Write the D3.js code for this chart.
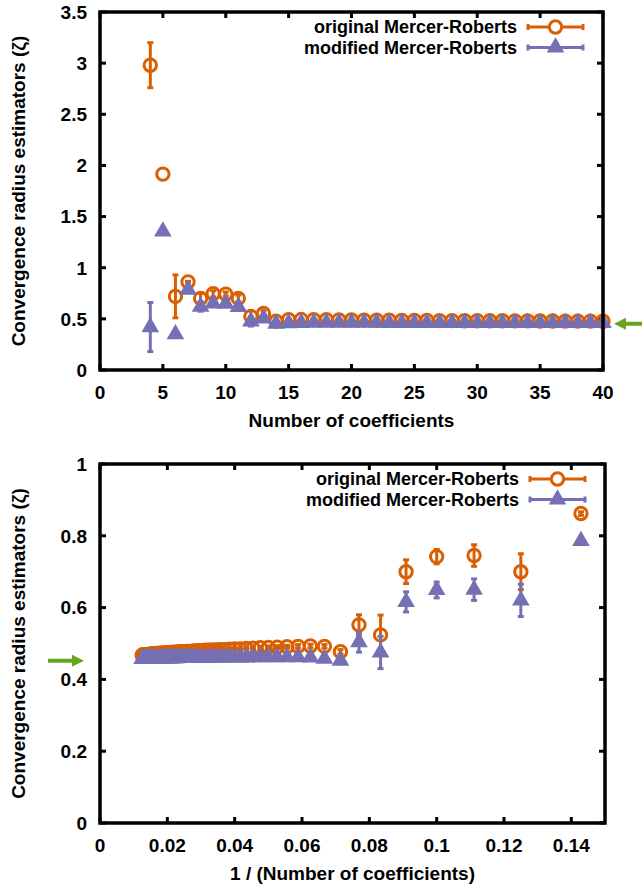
<!DOCTYPE html>
<html>
<head>
<meta charset="utf-8">
<script src="https://cdn.jsdelivr.net/npm/d3@7"></script>
<style>
  body { margin: 0; background: #fff; }
  svg { font-family: "Liberation Sans", Arial, sans-serif; font-weight: bold; }
</style>
</head>
<body>
<svg id="chart" width="642" height="888"></svg>
<script>
// number of coefficients
var nCoef = [4, 5, 6, 7, 8, 9, 10, 11, 12, 13, 14, 15, 16, 17, 18, 19, 20, 21, 22, 23,
    24, 25, 26, 27, 28, 29, 30, 31, 32, 33, 34, 35, 36, 37, 38, 39, 40, 41, 42, 43,
    44, 45, 46, 47, 48, 49, 50, 51, 52, 53, 54, 55, 56, 57, 58, 59, 60, 61, 62, 63,
    64, 65, 66, 67, 68, 69, 70, 71, 72, 73, 74, 75, 76, 77, 78, 79, 80];

var originalMR = [2.98, 1.915, 0.72, 0.862, 0.70, 0.745, 0.742, 0.70, 0.524, 0.552,
    0.477, 0.492, 0.493, 0.492, 0.491, 0.490, 0.489, 0.488, 0.487, 0.486,
    0.485, 0.485, 0.484, 0.483, 0.483, 0.482, 0.482, 0.481, 0.481, 0.480,
    0.480, 0.479, 0.479, 0.478, 0.478, 0.478, 0.477, 0.477, 0.477, 0.476,
    0.476, 0.476, 0.475, 0.475, 0.475, 0.474, 0.474, 0.474, 0.473, 0.473,
    0.473, 0.473, 0.472, 0.472, 0.472, 0.472, 0.471, 0.471, 0.471, 0.471,
    0.470, 0.470, 0.470, 0.470, 0.470, 0.469, 0.469, 0.469, 0.469, 0.469,
    0.468, 0.468, 0.468, 0.468, 0.468, 0.468, 0.467];
var originalErr = [0.22, 0, 0.21, 0.005, 0.05, 0.03, 0.02, 0.033, 0.055, 0.028,
    0.006, 0.005, 0.005, 0.005, 0.004, 0.004, 0.004, 0.004, 0.003, 0.003,
    0.003, 0.003, 0.003, 0.003, 0.003, 0.003, 0.002, 0.002, 0.002, 0.002,
    0.002, 0.002, 0.002, 0.002, 0.002, 0.002, 0.002, 0.002, 0.002, 0.002,
    0.002, 0.002, 0.002, 0.002, 0.002, 0.002, 0.002, 0.002, 0.002, 0.002,
    0.002, 0.002, 0.002, 0.002, 0.002, 0.002, 0.002, 0.002, 0.002, 0.002,
    0.002, 0.002, 0.002, 0.002, 0.002, 0.002, 0.002, 0.002, 0.002, 0.002,
    0.002, 0.002, 0.002, 0.002, 0.002, 0.002, 0.002];

var modifiedMR = [0.42, 1.355, 0.35, 0.786, 0.62, 0.65, 0.649, 0.616, 0.475, 0.504,
    0.452, 0.458, 0.461, 0.462, 0.462, 0.462, 0.462, 0.462, 0.462, 0.461,
    0.461, 0.461, 0.461, 0.461, 0.461, 0.461, 0.461, 0.460, 0.460, 0.460,
    0.460, 0.460, 0.460, 0.460, 0.460, 0.460, 0.460, 0.460, 0.460, 0.460,
    0.459, 0.459, 0.459, 0.459, 0.459, 0.459, 0.459, 0.459, 0.459, 0.459,
    0.458, 0.458, 0.458, 0.458, 0.458, 0.458, 0.458, 0.458, 0.458, 0.458,
    0.458, 0.458, 0.457, 0.457, 0.457, 0.457, 0.457, 0.457, 0.457, 0.457,
    0.457, 0.457, 0.457, 0.457, 0.457, 0.457, 0.457];
var modifiedErr = [0.24, 0, 0.01, 0.005, 0.045, 0.03, 0.022, 0.028, 0.045, 0.028,
    0.008, 0.006, 0.005, 0.005, 0.004, 0.004, 0.004, 0.004, 0.003, 0.003,
    0.003, 0.003, 0.003, 0.003, 0.003, 0.003, 0.002, 0.002, 0.002, 0.002,
    0.002, 0.002, 0.002, 0.002, 0.002, 0.002, 0.002, 0.002, 0.002, 0.002,
    0.002, 0.002, 0.002, 0.002, 0.002, 0.002, 0.002, 0.002, 0.002, 0.002,
    0.002, 0.002, 0.002, 0.002, 0.002, 0.002, 0.002, 0.002, 0.002, 0.002,
    0.002, 0.002, 0.002, 0.002, 0.002, 0.002, 0.002, 0.002, 0.002, 0.002,
    0.002, 0.002, 0.002, 0.002, 0.002, 0.002, 0.002];

var seriesNames = ["original Mercer-Roberts", "modified Mercer-Roberts"];
var topXTicks = [0, 5, 10, 15, 20, 25, 30, 35, 40];
var topYTicks = [0, 0.5, 1, 1.5, 2, 2.5, 3, 3.5];
var botXTicks = [0, 0.02, 0.04, 0.06, 0.08, 0.1, 0.12, 0.14];
var botYTicks = [0, 0.2, 0.4, 0.6, 0.8, 1];
var exactRadius = 0.452;

var orange = "#d95f02", purple = "#7570b3", green = "#66a61e";
var fs = 19, legendFs = 18;
var svg = d3.select("#chart");

function drawPanel(opt) {
    var g = svg.append("g");
    var x = d3.scaleLinear().domain(opt.xdom).range([opt.left, opt.right]),
        y = d3.scaleLinear().domain(opt.ydom).range([opt.bottom, opt.top]);

    var pts = nCoef.map(function(n, i) {
        return {x: opt.xval(n), o: originalMR[i], oe: originalErr[i], m: modifiedMR[i], me: modifiedErr[i]};
    }).filter(function(d) { return d.x >= opt.xdom[0] && d.x <= opt.xdom[1]; });

    // ticks (inside, mirrored)
    var tl = 6;
    opt.xticks.forEach(function(t) {
        g.append("line").attr("x1", x(t)).attr("x2", x(t)).attr("y1", opt.bottom).attr("y2", opt.bottom - tl)
            .attr("stroke", "#000").attr("stroke-width", 3);
        g.append("line").attr("x1", x(t)).attr("x2", x(t)).attr("y1", opt.top).attr("y2", opt.top + tl)
            .attr("stroke", "#000").attr("stroke-width", 3);
        g.append("text").attr("x", x(t)).attr("y", opt.bottom + 29).attr("text-anchor", "middle")
            .attr("font-size", fs).text(opt.xfmt(t));
    });
    opt.yticks.forEach(function(t) {
        g.append("line").attr("x1", opt.left).attr("x2", opt.left + tl).attr("y1", y(t)).attr("y2", y(t))
            .attr("stroke", "#000").attr("stroke-width", 3);
        g.append("line").attr("x1", opt.right).attr("x2", opt.right - tl).attr("y1", y(t)).attr("y2", y(t))
            .attr("stroke", "#000").attr("stroke-width", 3);
        g.append("text").attr("x", opt.left - 13).attr("y", y(t)).attr("dy", "0.36em").attr("text-anchor", "end")
            .attr("font-size", fs).text(opt.yfmt(t));
    });

    // error bars + markers
    function errBars(key, ekey, col) {
        var eb = g.append("g").attr("stroke", col).attr("stroke-width", 3);
        pts.filter(function(d) { return d[ekey] > 0; }).forEach(function(d) {
            eb.append("line").attr("x1", x(d.x)).attr("x2", x(d.x))
                .attr("y1", y(d[key] - d[ekey])).attr("y2", y(d[key] + d[ekey]));
            [-1, 1].forEach(function(s) {
                eb.append("line").attr("x1", x(d.x) - 3).attr("x2", x(d.x) + 3)
                    .attr("y1", y(d[key] + s * d[ekey])).attr("y2", y(d[key] + s * d[ekey]));
            });
        });
    }
    errBars("o", "oe", orange);
    g.append("g").selectAll("circle").data(pts).enter().append("circle")
        .attr("cx", function(d) { return x(d.x); })
        .attr("cy", function(d) { return y(d.o); })
        .attr("r", 6.2).attr("fill", "none").attr("stroke", orange).attr("stroke-width", 3);
    errBars("m", "me", purple);
    var tri = d3.symbol().type(d3.symbolTriangle).size(135);
    g.append("g").selectAll("path").data(pts).enter().append("path")
        .attr("d", tri)
        .attr("transform", function(d) { return "translate(" + x(d.x) + "," + y(d.m) + ")"; })
        .attr("fill", purple);

    // frame
    g.append("rect").attr("x", opt.left).attr("y", opt.top)
        .attr("width", opt.right - opt.left).attr("height", opt.bottom - opt.top)
        .attr("fill", "none").attr("stroke", "#000").attr("stroke-width", 3.5);

    // legend
    var lx1 = opt.right - 75, lx2 = opt.right - 20, lm = (lx1 + lx2) / 2;
    seriesNames.forEach(function(name, i) {
        var ly = opt.top + 15 + i * 20.5, col = i === 0 ? orange : purple;
        g.append("text").attr("x", lx1 - 11).attr("y", ly).attr("dy", "0.36em").attr("text-anchor", "end")
            .attr("font-size", legendFs).text(name);
        g.append("line").attr("x1", lx1).attr("x2", lx2).attr("y1", ly).attr("y2", ly)
            .attr("stroke", col).attr("stroke-width", 3);
        [lx1, lx2].forEach(function(px) {
            g.append("line").attr("x1", px).attr("x2", px).attr("y1", ly - 3).attr("y2", ly + 3)
                .attr("stroke", col).attr("stroke-width", 3);
        });
        if (i === 0) {
            g.append("circle").attr("cx", lm).attr("cy", ly).attr("r", 6.2)
                .attr("fill", "#fff").attr("stroke", orange).attr("stroke-width", 3);
        } else {
            g.append("path").attr("d", tri).attr("transform", "translate(" + lm + "," + ly + ")").attr("fill", purple);
        }
    });

    // axis titles
    g.append("text").attr("x", (opt.left + opt.right) / 2).attr("y", opt.bottom + 57)
        .attr("text-anchor", "middle").attr("font-size", fs).text(opt.xlabel);
    g.append("text").attr("transform", "translate(25," + ((opt.top + opt.bottom) / 2) + ") rotate(-90)")
        .attr("text-anchor", "middle").attr("font-size", fs).text("Convergence radius estimators (\u03b6)");

    // arrow marking the exact radius
    var ay = y(exactRadius), a = opt.arrow;
    var dir = a.tip < a.tail ? 1 : -1;
    g.append("line").attr("x1", a.tail).attr("x2", a.tip + dir * 10).attr("y1", ay).attr("y2", ay)
        .attr("stroke", green).attr("stroke-width", 4);
    g.append("path").attr("d", "M" + a.tip + "," + ay + "L" + (a.tip + dir * 12) + "," + (ay - 6) +
        "L" + (a.tip + dir * 12) + "," + (ay + 6) + "Z").attr("fill", green);
}

drawPanel({
    left: 100, right: 603, top: 12, bottom: 370,
    xdom: [0, 40], ydom: [0, 3.5],
    xval: function(n) { return n; },
    xticks: topXTicks, yticks: topYTicks,
    xfmt: function(t) { return String(t); }, yfmt: function(t) { return String(t); },
    xlabel: "Number of coefficients",
    arrow: {tip: 614, tail: 642}
});

drawPanel({
    left: 100, right: 605, top: 464, bottom: 823,
    xdom: [0, 0.15], ydom: [0, 1],
    xval: function(n) { return 1 / n; },
    xticks: botXTicks, yticks: botYTicks,
    xfmt: function(t) { return String(t); }, yfmt: function(t) { return String(t); },
    xlabel: "1 / (Number of coefficients)",
    arrow: {tip: 84, tail: 48}
});
</script>
</body>
</html>
